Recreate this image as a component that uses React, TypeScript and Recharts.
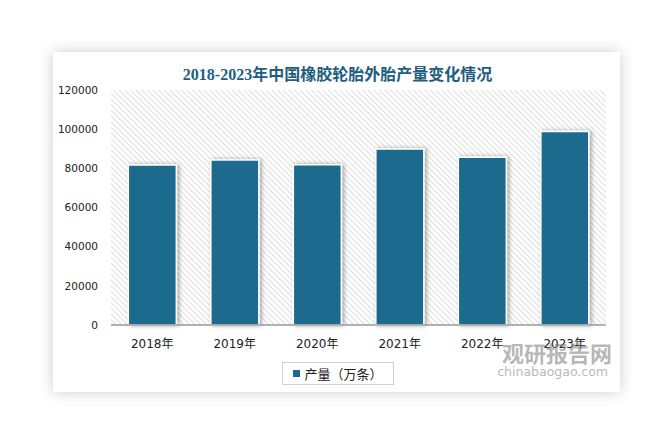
import React from 'react';
import { BarChart, Bar, XAxis, YAxis, CartesianGrid, Legend } from 'recharts';

const years = ['2018年', '2019年', '2020年', '2021年', '2022年', '2023年'];
const output = [81640, 84226, 81781, 89891, 85606, 98831];
const yTicks = [0, 20000, 40000, 60000, 80000, 100000, 120000];

const chartData = years.map((year, i) => ({ year, output: output[i] }));

const BAR_COLOR = '#1b6a8e';

function LegendBox() {
  return (
    <div
      style={{
        position: 'absolute',
        left: 282,
        top: 362,
        width: 112,
        height: 23,
        border: '1px solid #d0d0d0',
        boxSizing: 'border-box',
        display: 'flex',
        alignItems: 'center',
        justifyContent: 'center',
        fontFamily: '"Noto Sans CJK SC", sans-serif',
        fontSize: 13,
        color: '#222',
        background: '#fff',
      }}
    >
      <span style={{ display: 'inline-block', width: 7, height: 7, background: BAR_COLOR, marginRight: 4 }} />
      产量（万条）
    </div>
  );
}

export default function App() {
  return (
    <div style={{ position: 'absolute', left: 0, top: 0, width: 667, height: 443, background: '#fff', overflow: 'hidden' }}>
      <div
        style={{
          position: 'absolute',
          left: 53,
          top: 52,
          width: 567,
          height: 340,
          background: '#fff',
          boxShadow: '0 0 14px rgba(0,0,0,0.2)',
        }}
      />
      <div
        style={{
          position: 'absolute',
          left: 0,
          width: 667,
          top: 61,
          textAlign: 'center',
          paddingLeft: 8,
          boxSizing: 'border-box',
          fontFamily: '"Liberation Serif", "Noto Sans CJK SC", serif',
          fontWeight: 'bold',
          fontSize: 16,
          color: '#1e5e80',
        }}
      >
        2018-2023年中国橡胶轮胎外胎产量变化情况
      </div>
      <div style={{ position: 'absolute', left: 0, top: 0 }}>
        <BarChart
          width={667}
          height={443}
          data={chartData}
          margin={{ top: 90, right: 61, bottom: 88, left: 51 }}
          barCategoryGap="21%"
        >
          <defs>
            <pattern id="hatch" width="4" height="4" patternUnits="userSpaceOnUse" patternTransform="rotate(-45)">
              <line x1="0" y1="0" x2="0" y2="4" stroke="#cfcfcf" strokeWidth="1.4" />
            </pattern>
            <filter id="barShadow" x="-20%" y="-20%" width="150%" height="140%">
              <feDropShadow dx="2" dy="0" stdDeviation="2.2" floodColor="#000" floodOpacity="0.35" />
            </filter>
          </defs>
          <CartesianGrid horizontal={false} vertical={false} fill="url(#hatch)" stroke="none" />
          <XAxis
            dataKey="year"
            tickLine={false}
            tickSize={0}
            tickMargin={14}
            axisLine={{ stroke: '#999', strokeWidth: 1.5 }}
            tick={{ fontSize: 12, fill: '#222', fontFamily: '"DejaVu Sans", "Noto Sans CJK SC", sans-serif' }}
            height={30}
          />
          <YAxis
            domain={[0, 120000]}
            ticks={yTicks}
            axisLine={false}
            tickLine={false}
            tickSize={0}
            tickMargin={13}
            width={60}
            tick={{ fontSize: 10.5, fill: '#222', fontFamily: '"DejaVu Sans", sans-serif' }}
          />
          <Legend content={() => null} />
          <Bar
            dataKey="output"
            name="产量（万条）"
            fill={BAR_COLOR}
            stroke="#fff"
            strokeWidth={1.5}
            filter="url(#barShadow)"
            isAnimationActive={false}
          />
        </BarChart>
      </div>
      <LegendBox />
      <div
        style={{
          position: 'absolute',
          left: 500,
          top: 339,
          width: 112,
          textAlign: 'right',
          fontFamily: '"Noto Sans CJK SC", sans-serif',
          fontWeight: 'bold',
          fontSize: 22,
          lineHeight: '26px',
          color: 'rgba(120,120,120,0.55)',
        }}
      >
        观研报告网
      </div>
      <div
        style={{
          position: 'absolute',
          left: 490,
          top: 364,
          width: 118,
          textAlign: 'right',
          fontFamily: '"DejaVu Sans", sans-serif',
          fontSize: 12.5,
          color: 'rgba(120,120,120,0.55)',
        }}
      >
        chinabaogao.com
      </div>
    </div>
  );
}
